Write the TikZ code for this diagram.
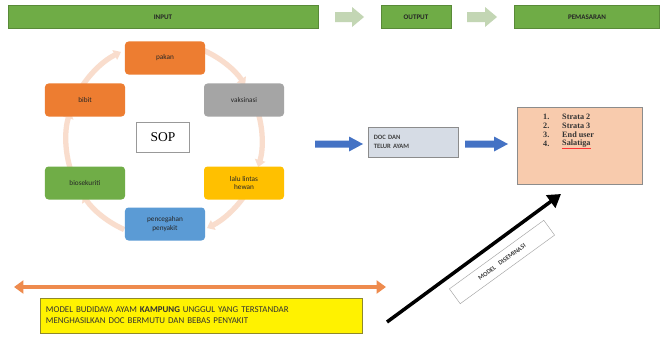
\documentclass[tikz,border=0pt]{standalone}
\usepackage{fontspec}
\setmainfont{Carlito}
\newfontfamily\serifnum{Liberation Serif}
\usetikzlibrary{arrows.meta}
\definecolor{barg}{HTML}{6FAC46}
\definecolor{chev}{HTML}{C3D6B4}
\definecolor{orng}{HTML}{ED7D31}
\definecolor{gry}{HTML}{A5A5A5}
\definecolor{yel}{HTML}{FFC000}
\definecolor{grn}{HTML}{70AD47}
\definecolor{blu}{HTML}{5B9BD5}
\definecolor{ring}{HTML}{F9DDCD}
\definecolor{darr}{HTML}{4472C4}
\definecolor{docfill}{HTML}{D6DCE5}
\definecolor{peach}{HTML}{F8CBAD}
\definecolor{orarrow}{HTML}{EE8B4E}
\tikzset{
  bar/.style={fill=barg, draw=barg!80!black, line width=0.3pt, minimum height=0.68cm, inner sep=0pt,
    font=\fontsize{6}{7}\selectfont\bfseries, text=black!85},
  cyc/.style={rounded corners=3pt, minimum width=2.4cm, minimum height=0.99cm, inner sep=1pt,
    align=center, font=\fontsize{6.2}{7.5}\selectfont, text=black!85},
  ringarc/.style={draw=ring, line width=4.5pt, -{Triangle[length=6pt,width=9pt]}},
}
\begin{document}
\begin{tikzpicture}[x=0.03cm,y=-0.03cm]
\useasboundingbox[fill=white] (0,0) rectangle (666,337);

% top bars
\node[bar, minimum width=9.3cm] (input) at (163,17) {INPUT};
\node[bar, minimum width=2.1cm] (output) at (416,17) {OUTPUT};
\node[bar, minimum width=4.35cm] (pemasaran) at (587,17) {PEMASARAN};
\fill[chev] (335,12) -- (352,12) -- (352,7) -- (364,17) -- (352,27) -- (352,22) -- (335,22) -- cycle;
\fill[chev] (467,12) -- (485,12) -- (485,7) -- (497,17) -- (485,27) -- (485,22) -- (467,22) -- cycle;

% cycle ring
\coordinate (cc) at (164,140);
\draw[ringarc] (cc) ++(-150:98) arc[start angle=-150, end angle=-116, radius=98];
\draw[ringarc] (cc) ++(-66:98) arc[start angle=-66, end angle=-34, radius=98];
\draw[ringarc] (cc) ++(-18:98) arc[start angle=-18, end angle=16, radius=98];
\draw[ringarc] (cc) ++(34:98) arc[start angle=34, end angle=64, radius=98];
\draw[ringarc] (cc) ++(114:98) arc[start angle=114, end angle=146, radius=98];
\draw[ringarc] (cc) ++(162:98) arc[start angle=162, end angle=197, radius=98];

% cycle nodes
\node[cyc, fill=orng] (pakan) at (165,58) {pakan};
\node[cyc, fill=gry] (vaksinasi) at (244,100) {vaksinasi};
\node[cyc, fill=orng] (bibit) at (85,100) {bibit};
\node[cyc, fill=grn] (bio) at (85,183) {biosekuriti};
\node[cyc, fill=yel] (lalu) at (244,183) {lalu lintas\\hewan};
\node[cyc, fill=blu] (penc) at (165,224) {pencegahan\\penyakit};
\node[draw=gray!80, fill=white, minimum width=1.59cm, minimum height=0.9cm, inner sep=0pt,
  font=\serifnum\fontsize{11.5}{13}\selectfont] (sop) at (163,137) {SOP};

% DOC box and blue arrows
\node[draw=gray!90, fill=docfill, minimum width=2.7cm, minimum height=0.9cm, inner sep=3pt,
  align=left, text width=2.35cm, font=\fontsize{5.6}{8}\selectfont\bfseries, text=black!75] (doc) at (413,142) {DOC DAN\\TELUR AYAM};
\node[draw=gray!90, fill=peach, minimum width=3.75cm, minimum height=2.3cm] (pasar) at (580,146) {};
\fill[darr] (315,140.5) -- (349,140.5) -- (349,136.5) -- (363,144) -- (349,151.5) -- (349,147.5) -- (315,147.5) -- cycle;
\fill[darr] (465,140.5) -- (494,140.5) -- (494,136.5) -- (508,144) -- (494,151.5) -- (494,147.5) -- (465,147.5) -- cycle;

% list
\begin{scope}[every node/.style={font=\serifnum\fontsize{7}{8}\selectfont\bfseries, text=black!80, anchor=west, inner sep=0pt}]
\node (n1) at (543,117) {1.};  \node (w1) at (562,117) {Strata 2};
\node (n2) at (543,126) {2.}; \node (w2) at (562,126) {Strata 3};
\node (n3) at (543,135) {3.};  \node (w3) at (562,135) {End user};
\node (n4) at (543,144) {4.}; \node (w4) at (562,144) {Salatiga};
\end{scope}
\draw[red!80, line width=0.45pt] ([yshift=-0.6pt]w4.south west) -- ([yshift=-0.6pt]w4.south east);

% bottom
\coordinate (ol) at (14,287);
\coordinate (or) at (386,287);
\draw[orarrow, line width=3pt, {Triangle[length=8pt,width=11pt]}-{Triangle[length=8pt,width=11pt]}] (ol) -- (or);
\node[draw=olive!70!gray, fill=yellow, minimum width=9.66cm, minimum height=1.05cm, inner sep=3pt,
  align=left, font=\fontsize{7.6}{9.4}\selectfont, text=black!80, text width=9.3cm] (model) at (201,315.5)
  {MODEL BUDIDAYA AYAM \textbf{KAMPUNG} UNGGUL YANG TERSTANDAR\\MENGHASILKAN DOC BERMUTU DAN BEBAS PENYAKIT};

\coordinate (bs) at (387,322);
\coordinate (be) at (561,194);
\draw[black, line width=3pt, -{Triangle[length=11pt,width=13pt]}] (bs) -- (be);
\node[draw=gray!70, fill=white, rotate=36, minimum width=3.5cm, minimum height=0.55cm, inner sep=1pt,
  font=\fontsize{5.5}{6}\selectfont\bfseries, text=black!75] (dis) at (502,262) {MODEL\hspace{4pt}DISEMINASI};
\end{tikzpicture}
\end{document}
